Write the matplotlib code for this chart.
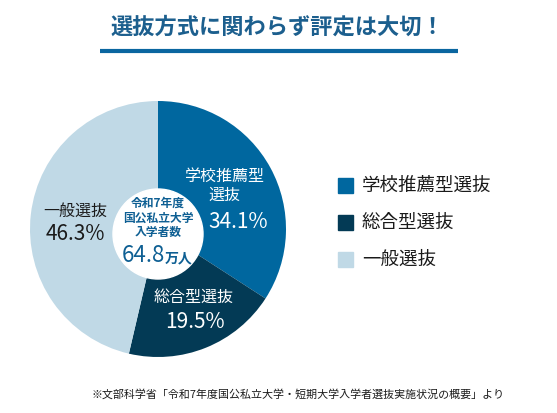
import matplotlib
matplotlib.use("Agg")
import matplotlib.pyplot as plt
from matplotlib.patches import Circle, Rectangle

plt.rcParams['font.family'] = ['Noto Sans CJK JP', 'DejaVu Sans']

# data
labels = ['学校推薦型選抜', '総合型選抜', '一般選抜']
pie_labels = ['学校推薦型\n選抜', '総合型選抜', '一般選抜']
shares = [34.1, 19.5, 46.3]
colors = ['#00679f', '#033a55', '#c0d9e6']
total_text = ['令和7年度', '国公私立大学', '入学者数']
total_value = '64.8'
total_unit = '万人'
title = '選抜方式に関わらず評定は大切！'
source = '※文部科学省「令和7年度国公私立大学・短期大学入学者選抜実施状況の概要」より'

W, H = 557, 414
fig = plt.figure(figsize=(W / 100, H / 100), dpi=100)
ax = fig.add_axes([0, 0, 1, 1])

def Y(y):
    return H - y

# title + rule
ax.text(277, Y(27), title, ha='center', va='center', fontsize=16,
        fontweight='bold', color='#1c5f8e')
ax.plot([100, 458], [Y(52), Y(52)], color='#0a66a0', lw=3, solid_capstyle='butt')

# pie
cx, cy, r = 158, 230, 128
ax.pie(shares, colors=colors, startangle=90, counterclock=False,
       center=(cx, Y(cy)), radius=r, frame=True,
       wedgeprops=dict(linewidth=0))
ax.set_xlim(0, W)
ax.set_ylim(0, H)
ax.set_aspect('equal')
ax.axis('off')
ax.add_patch(Circle((cx, Y(cy + 5)), 45, color='white', zorder=3))

# center text
for i, t in enumerate(total_text):
    ax.text(cx, Y(203 + i * 15), t, ha='center', va='center', fontsize=8.5,
            fontweight='bold', color='#0e5f93', zorder=4)
ax.text(cx + 7, Y(256), total_value, ha='right', va='center', fontsize=16,
        color='#0e5f93', zorder=4)
ax.text(cx + 7, Y(258), total_unit, ha='left', va='center', fontsize=10,
        fontweight='bold', color='#0e5f93', zorder=4)

# wedge labels
label_pos = [(224, 186, 222), (194, 297, 322), (75, 211, 234)]
pct_x = [238, 195, 75]
text_colors = ['white', 'white', '#1a1a1a']
for lab, s, (x, y1, y2), px, c in zip(pie_labels, shares, label_pos, pct_x, text_colors):
    ax.text(x, Y(y1), lab, ha='center', va='center', fontsize=11.5,
            color=c, linespacing=1.1, zorder=4)
    ax.text(px, Y(y2), f'{s}%', ha='center', va='center', fontsize=15,
            color=c, zorder=4)

# legend
for i, (lab, c) in enumerate(zip(labels, colors)):
    ly = 186 + i * 37
    ax.add_patch(Rectangle((338, Y(ly) - 7.5), 15, 15, color=c))
    ax.text(362, Y(ly), lab, ha='left', va='center', fontsize=13.3,
            color='#1a1a1a')

# source
ax.text(505, Y(394), source, ha='right', va='center', fontsize=7.9,
        color='#1a1a1a')

fig.savefig('out.png', dpi=100, facecolor='white')
